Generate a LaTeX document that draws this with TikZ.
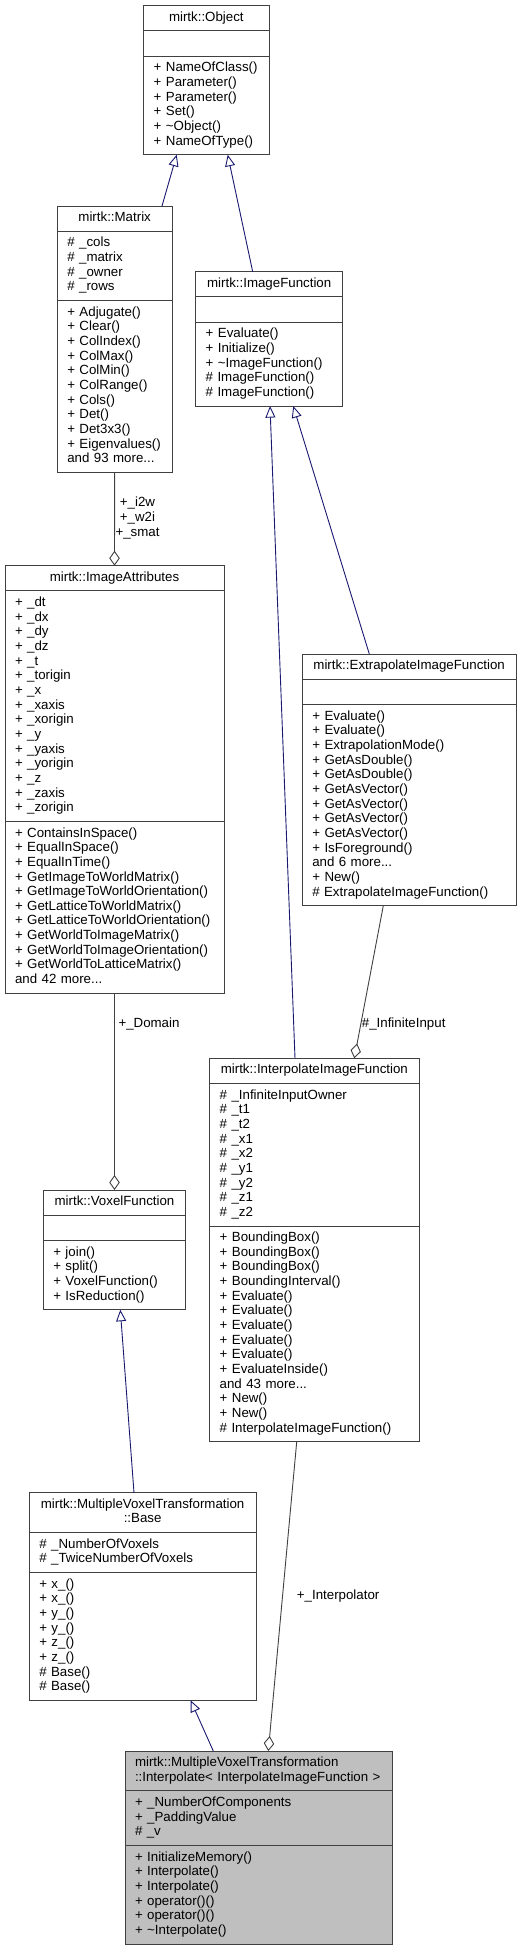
\documentclass[tikz,border=0pt]{standalone}
\usepackage{fontspec}
\setmainfont{Liberation Sans}
\usepackage{xcolor}
\usetikzlibrary{positioning,arrows.meta}
\definecolor{edgegrey}{HTML}{404040}
\definecolor{navyedge}{HTML}{191970}
\definecolor{fillgrey}{HTML}{BFBFBF}

\tikzset{
  part/.style 2 args={draw=edgegrey, line width=1pt, outer sep=0pt,
    inner xsep=10pt, inner ysep=5.3pt, align=left, anchor=north,
    text width=#1pt-20pt, text height=10.26pt, text depth=#2*14.66pt-10.26pt,
    font=\fontsize{13.3}{14.66}\selectfont},
  head/.style 2 args={part={#1}{#2}, align=center},
  inherit/.style={draw=navyedge, line width=0.9pt,
    -{Triangle[open,length=11.5pt,width=10pt]}},
  aggr/.style={draw=edgegrey, line width=0.9pt,
    -{Diamond[open,length=15pt,width=10.5pt]}},
  lbl/.style={font=\fontsize{13.3}{14.66}\selectfont, inner sep=0pt, anchor=west}
}

\begin{document}
\begin{tikzpicture}[x=1pt,y=-1pt]
  \useasboundingbox (0,0) rectangle (521,1951);

  % mirtk::Object
  \node[head={125.3}{1}] (Object) at (206.35,5.7) {mirtk::Object};
  \node[part={125.3}{1}, below=0pt of Object] (ObjectA) {};
  \node[part={125.3}{6}, below=0pt of ObjectA] (ObjectM)
    {+ NameOfClass()\\+ Parameter()\\+ Parameter()\\+ Set()\\
     + \textasciitilde Object()\\+ NameOfType()};

  % mirtk::Matrix
  \node[head={114.7}{1}] (Matrix) at (114.65,206) {mirtk::Matrix};
  \node[part={114.7}{4}, below=0pt of Matrix] (MatrixA)
    {\# \_cols\\\# \_matrix\\\# \_owner\\\# \_rows};
  \node[part={114.7}{11}, below=0pt of MatrixA] (MatrixM)
    {+ Adjugate()\\+ Clear()\\+ ColIndex()\\+ ColMax()\\+ ColMin()\\
     + ColRange()\\+ Cols()\\+ Det()\\+ Det3x3()\\+ Eigenvalues()\\
     and 93 more...};

  % mirtk::ImageFunction
  \node[head={147}{1}] (ImgFunc) at (269.2,271.7) {mirtk::ImageFunction};
  \node[part={147}{1}, below=0pt of ImgFunc] (ImgFuncA) {};
  \node[part={147}{5}, below=0pt of ImgFuncA] (ImgFuncM)
    {+ Evaluate()\\+ Initialize()\\+ \textasciitilde ImageFunction()\\
     \# ImageFunction()\\\# ImageFunction()};

  % mirtk::ImageAttributes
  \node[head={219}{1}] (ImgAttr) at (114.5,565.7) {mirtk::ImageAttributes};
  \node[part={219}{15}, below=0pt of ImgAttr] (ImgAttrA)
    {+ \_dt\\+ \_dx\\+ \_dy\\+ \_dz\\+ \_t\\+ \_torigin\\+ \_x\\+ \_xaxis\\
     + \_xorigin\\+ \_y\\+ \_yaxis\\+ \_yorigin\\+ \_z\\+ \_zaxis\\+ \_zorigin};
  \node[part={219}{11}, below=0pt of ImgAttrA] (ImgAttrM)
    {+ ContainsInSpace()\\+ EqualInSpace()\\+ EqualInTime()\\
     + GetImageToWorldMatrix()\\+ GetImageToWorldOrientation()\\
     + GetLatticeToWorldMatrix()\\+ GetLatticeToWorldOrientation()\\
     + GetWorldToImageMatrix()\\+ GetWorldToImageOrientation()\\
     + GetWorldToLatticeMatrix()\\and 42 more...};

  % mirtk::ExtrapolateImageFunction
  \node[head={213.7}{1}] (ExtFunc) at (409.15,654) {mirtk::ExtrapolateImageFunction};
  \node[part={213.7}{1}, below=0pt of ExtFunc] (ExtFuncA) {};
  \node[part={213.7}{13}, below=0pt of ExtFuncA] (ExtFuncM)
    {+ Evaluate()\\+ Evaluate()\\+ ExtrapolationMode()\\+ GetAsDouble()\\
     + GetAsDouble()\\+ GetAsVector()\\+ GetAsVector()\\+ GetAsVector()\\
     + GetAsVector()\\+ IsForeground()\\and 6 more...\\+ New()\\
     \# ExtrapolateImageFunction()};

  % mirtk::InterpolateImageFunction
  \node[head={209.3}{1}] (IntFunc) at (314.35,1058.3) {mirtk::InterpolateImageFunction};
  \node[part={209.3}{9}, below=0pt of IntFunc] (IntFuncA)
    {\# \_InfiniteInputOwner\\\# \_t1\\\# \_t2\\\# \_x1\\\# \_x2\\
     \# \_y1\\\# \_y2\\\# \_z1\\\# \_z2};
  \node[part={209.3}{14}, below=0pt of IntFuncA] (IntFuncM)
    {+ BoundingBox()\\+ BoundingBox()\\+ BoundingBox()\\+ BoundingInterval()\\
     + Evaluate()\\+ Evaluate()\\+ Evaluate()\\+ Evaluate()\\+ Evaluate()\\
     + EvaluateInside()\\and 43 more...\\+ New()\\+ New()\\
     \# InterpolateImageFunction()};

  % mirtk::VoxelFunction
  \node[head={142.4}{1}] (VoxFunc) at (114.5,1190) {mirtk::VoxelFunction};
  \node[part={142.4}{1}, below=0pt of VoxFunc] (VoxFuncA) {};
  \node[part={142.4}{4}, below=0pt of VoxFuncA] (VoxFuncM)
    {+ join()\\+ split()\\+ VoxelFunction()\\+ IsReduction()};

  % mirtk::MultipleVoxelTransformation::Base
  \node[head={226.7}{2}] (MvtBase) at (142.65,1492.7)
    {mirtk::MultipleVoxelTransformation\\::Base};
  \node[part={226.7}{2}, below=0pt of MvtBase] (MvtBaseA)
    {\# \_NumberOfVoxels\\\# \_TwiceNumberOfVoxels};
  \node[part={226.7}{8}, below=0pt of MvtBaseA] (MvtBaseM)
    {+ x\_()\\+ x\_()\\+ y\_()\\+ y\_()\\+ z\_()\\+ z\_()\\\# Base()\\\# Base()};

  % mirtk::MultipleVoxelTransformation::Interpolate
  \node[part={267}{2}, fill=fillgrey] (MvtInt) at (258.5,1751)
    {mirtk::MultipleVoxelTransformation\\::Interpolate< InterpolateImageFunction >};
  \node[part={267}{3}, fill=fillgrey, below=0pt of MvtInt] (MvtIntA)
    {+ \_NumberOfComponents\\+ \_PaddingValue\\\# \_v};
  \node[part={267}{6}, fill=fillgrey, below=0pt of MvtIntA] (MvtIntM)
    {+ InitializeMemory()\\+ Interpolate()\\+ Interpolate()\\+ operator()()\\
     + operator()()\\+ \textasciitilde Interpolate()};

  % inheritance
  \draw[inherit] ([xshift=47.35pt]Matrix.north) -- ([xshift=-29.65pt]ObjectM.south);
  \draw[inherit] ([xshift=-16.5pt]ImgFunc.north) -- ([xshift=21.35pt]ObjectM.south);
  \draw[inherit] ([xshift=-19.35pt]IntFunc.north) -- ([xshift=0.8pt]ImgFuncM.south);
  \draw[inherit] ([xshift=-39.85pt]ExtFunc.north) -- ([xshift=24.1pt]ImgFuncM.south);
  \draw[inherit] ([xshift=-8.65pt]MvtBase.north) -- ([xshift=5.8pt]VoxFuncM.south);
  \draw[inherit] ([xshift=-45.2pt]MvtInt.north) -- ([xshift=48.05pt]MvtBaseM.south);

  % aggregation
  \draw[aggr] (MatrixM.south) -- (ImgAttr.north);
  \draw[aggr] (ImgAttrM.south) -- (VoxFunc.north);
  \draw[aggr] ([xshift=-25.85pt]ExtFuncM.south) -- ([xshift=39.95pt]IntFunc.north);
  \draw[aggr] ([xshift=-17.65pt]IntFuncM.south) -- ([xshift=9.8pt]MvtInt.north);

  \node[lbl, anchor=center, align=center] (MatLbl) at (137.5,518)
    {+\_i2w\\+\_w2i\\+\_smat};
  \node[lbl] (DomLbl) at (118.3,1024.3) {+\_Domain};
  \node[lbl] (InfLbl) at (361.7,1024.3) {\#\_InfiniteInput};
  \node[lbl] (IntLbl) at (296.7,1595.7) {+\_Interpolator};
\end{tikzpicture}
\end{document}
